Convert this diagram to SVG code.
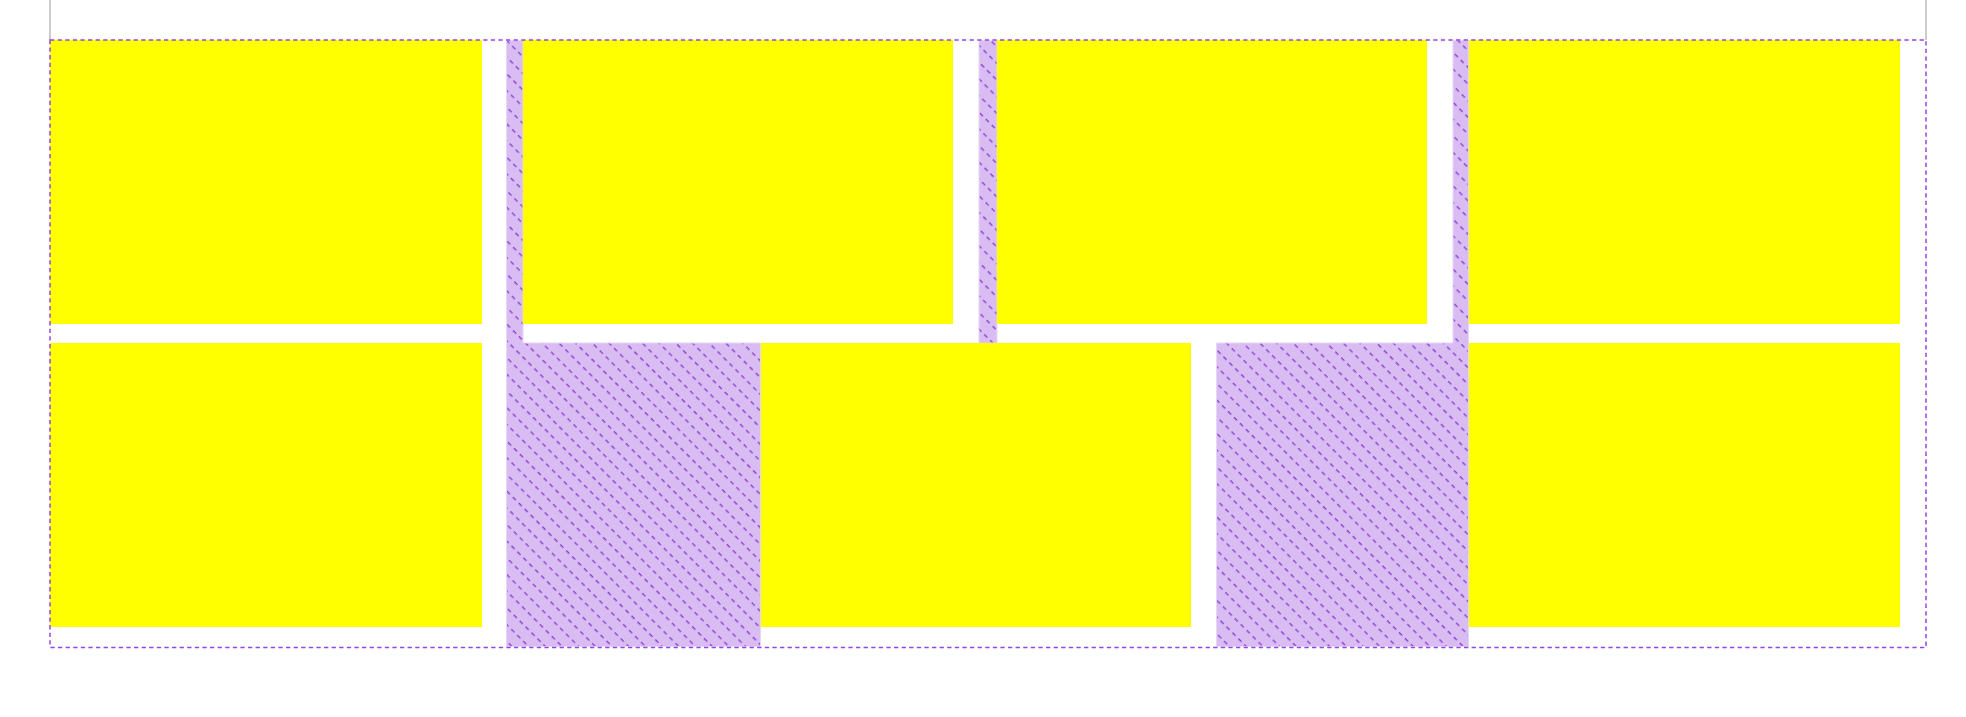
<svg xmlns="http://www.w3.org/2000/svg" width="1966" height="717" viewBox="0 0 1966 717">
  <defs>
    <pattern id="hatch" patternUnits="userSpaceOnUse" width="8.4" height="11.8" patternTransform="rotate(45)">
      <rect x="0" y="0" width="8.4" height="11.8" fill="#d9bdf2"/>
      <rect x="0" y="0" width="4.4" height="1.4" fill="#8c3fd8"/>
    </pattern>
  </defs>
  <style>
    .cell { fill: #ffff00; }
    .gap { fill: url(#hatch); stroke: #e6d6f7; stroke-width: 1; }
    .guide { stroke: #cccccc; stroke-width: 2; fill: none; }
    .frame { fill: none; stroke: #9447e0; stroke-width: 1.5; stroke-dasharray: 4.3 3.3; }
  </style>
  <rect width="1966" height="717" fill="#ffffff"/>

  <g id="guides">
    <line class="guide" x1="50" y1="0" x2="50" y2="40"/>
    <line class="guide" x1="1926" y1="0" x2="1926" y2="40"/>
  </g>

  <g id="gaps">
    <path class="gap" d="M506.5,40.5 H523 V343 H760.5 V646.5 H506.5 Z"/>
    <rect class="gap" x="979" y="40.5" width="18" height="302.5"/>
    <path class="gap" d="M1453,40.5 H1468.5 V646.5 H1216.5 V343 H1453 Z"/>
  </g>

  <g id="cell-1"><rect class="cell" x="50" y="40" width="432" height="284"/></g>
  <g id="cell-2"><rect class="cell" x="523" y="40" width="430" height="284"/></g>
  <g id="cell-3"><rect class="cell" x="997" y="40" width="430" height="284"/></g>
  <g id="cell-4"><rect class="cell" x="1469" y="40" width="431" height="284"/></g>
  <g id="cell-5"><rect class="cell" x="50" y="343" width="432" height="284"/></g>
  <g id="cell-6"><rect class="cell" x="761" y="343" width="430" height="284"/></g>
  <g id="cell-7"><rect class="cell" x="1469" y="343" width="431" height="284"/></g>

  <g id="connectors"></g>

  <g id="container">
    <rect class="frame" x="50" y="40" width="1876" height="607.5"/>
  </g>
</svg>
